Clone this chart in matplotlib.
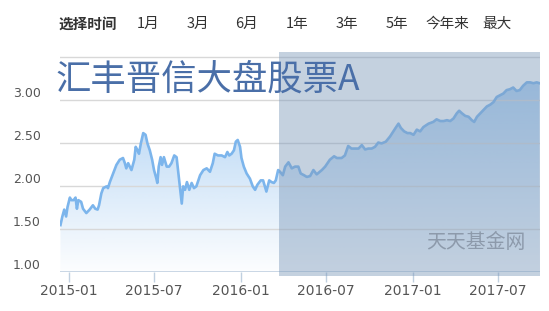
import matplotlib
matplotlib.use('Agg')
import matplotlib.pyplot as plt
import matplotlib.dates as mdates
import matplotlib.transforms as mtransforms
from matplotlib.patches import PathPatch
import numpy as np
from datetime import datetime

plt.rcParams['font.family'] = ['Noto Sans CJK SC', 'DejaVu Sans']

# fund NAV
dates = [
    '2014-12-14', '2014-12-18', '2014-12-22', '2014-12-26', '2014-12-29', '2015-01-03',
    '2015-01-06', '2015-01-11', '2015-01-15', '2015-01-18', '2015-01-21', '2015-01-27',
    '2015-01-31', '2015-02-07', '2015-02-14', '2015-02-21', '2015-02-26', '2015-03-03',
    '2015-03-06', '2015-03-11', '2015-03-15', '2015-03-22', '2015-03-25', '2015-03-29',
    '2015-04-05', '2015-04-12', '2015-04-19', '2015-04-26', '2015-04-30', '2015-05-03',
    '2015-05-07', '2015-05-14', '2015-05-20', '2015-05-23', '2015-05-27', '2015-05-30',
    '2015-06-03', '2015-06-08', '2015-06-13', '2015-06-17', '2015-06-22', '2015-06-27',
    '2015-07-01', '2015-07-06', '2015-07-08', '2015-07-11', '2015-07-15', '2015-07-18',
    '2015-07-22', '2015-07-28', '2015-08-02', '2015-08-07', '2015-08-13', '2015-08-18',
    '2015-08-21', '2015-08-25', '2015-08-29', '2015-09-01', '2015-09-05', '2015-09-09',
    '2015-09-14', '2015-09-19', '2015-09-24', '2015-09-29', '2015-10-07', '2015-10-14',
    '2015-10-21', '2015-10-28', '2015-11-03', '2015-11-07', '2015-11-14', '2015-11-22',
    '2015-11-29', '2015-12-04', '2015-12-08', '2015-12-13', '2015-12-18', '2015-12-22',
    '2015-12-26', '2015-12-31', '2016-01-03', '2016-01-08', '2016-01-14', '2016-01-21',
    '2016-01-27', '2016-02-01', '2016-02-06', '2016-02-13', '2016-02-18', '2016-02-25',
    '2016-03-02', '2016-03-07', '2016-03-12', '2016-03-16', '2016-03-21', '2016-03-25',
    '2016-03-31', '2016-04-05', '2016-04-12', '2016-04-19', '2016-04-26', '2016-05-03',
    '2016-05-08', '2016-05-15', '2016-05-21', '2016-05-28', '2016-06-04', '2016-06-11',
    '2016-06-22', '2016-06-29', '2016-07-09', '2016-07-18', '2016-07-24', '2016-08-03',
    '2016-08-10', '2016-08-17', '2016-08-24', '2016-08-31', '2016-09-08', '2016-09-15',
    '2016-09-22', '2016-09-29', '2016-10-06', '2016-10-13', '2016-10-20', '2016-10-27',
    '2016-11-05', '2016-11-14', '2016-11-21', '2016-11-27', '2016-12-02', '2016-12-07',
    '2016-12-14', '2016-12-21', '2016-12-27', '2017-01-03', '2017-01-10', '2017-01-17',
    '2017-01-24', '2017-02-04', '2017-02-14', '2017-02-21', '2017-03-01', '2017-03-08',
    '2017-03-15', '2017-03-22', '2017-03-29', '2017-04-05', '2017-04-10', '2017-04-16',
    '2017-04-23', '2017-04-30', '2017-05-07', '2017-05-12', '2017-05-18', '2017-05-25',
    '2017-06-01', '2017-06-08', '2017-06-15', '2017-06-22', '2017-06-29', '2017-07-06',
    '2017-07-13', '2017-07-20', '2017-07-27', '2017-08-03', '2017-08-10', '2017-08-17',
    '2017-08-24', '2017-09-01', '2017-09-08', '2017-09-15', '2017-09-22', '2017-09-28',
]
navs = [
    1.54, 1.64, 1.72, 1.64, 1.75, 1.86,
    1.83, 1.83, 1.86, 1.73, 1.83, 1.81,
    1.73, 1.68, 1.72, 1.77, 1.73, 1.72,
    1.77, 1.91, 1.97, 1.99, 1.97, 2.04,
    2.14, 2.24, 2.30, 2.32, 2.26, 2.20,
    2.26, 2.18, 2.30, 2.45, 2.41, 2.37,
    2.49, 2.61, 2.59, 2.49, 2.41, 2.30,
    2.18, 2.08, 2.03, 2.22, 2.33, 2.24,
    2.33, 2.22, 2.22, 2.26, 2.35, 2.33,
    2.18, 1.99, 1.79, 1.99, 1.95, 2.04,
    1.95, 2.03, 1.97, 1.99, 2.12, 2.18,
    2.20, 2.16, 2.26, 2.37, 2.35, 2.35,
    2.33, 2.39, 2.35, 2.37, 2.41, 2.51,
    2.53, 2.45, 2.32, 2.22, 2.14, 2.08,
    1.99, 1.95, 2.01, 2.06, 2.06, 1.93,
    2.06, 2.04, 2.03, 2.06, 2.18, 2.16,
    2.12, 2.22, 2.27, 2.20, 2.22, 2.22,
    2.14, 2.12, 2.10, 2.11, 2.18, 2.13,
    2.18, 2.22, 2.30, 2.34, 2.32, 2.32,
    2.35, 2.46, 2.43, 2.43, 2.43, 2.47,
    2.42, 2.43, 2.43, 2.45, 2.50, 2.49,
    2.51, 2.57, 2.63, 2.68, 2.72, 2.67,
    2.63, 2.61, 2.61, 2.59, 2.65, 2.63,
    2.68, 2.72, 2.74, 2.77, 2.75, 2.75,
    2.76, 2.75, 2.78, 2.84, 2.87, 2.84,
    2.81, 2.80, 2.76, 2.74, 2.80, 2.84,
    2.88, 2.92, 2.94, 2.97, 3.03, 3.05,
    3.07, 3.11, 3.12, 3.14, 3.10, 3.11,
    3.16, 3.20, 3.20, 3.19, 3.20, 3.19,
]

tick_dates = ['2015-01-01', '2015-07-01', '2016-01-01', '2016-07-01', '2017-01-01', '2017-07-01']
tick_labels = ['2015-01', '2015-07', '2016-01', '2016-07', '2017-01', '2017-07']
y_ticks = [1.0, 1.5, 2.0, 2.5, 3.0]
grid_levels = [1.5, 2.0, 2.5, 3.0, 3.5]

menu_labels = ['1月', '3月', '6月', '1年', '3年', '5年', '今年来', '最大']
menu_x = [148, 198, 247, 297, 347, 397, 447, 497]

title = '汇丰晋信大盘股票A'
selected_from = '2016-03-22'


def to_num(d):
    return mdates.date2num(datetime.strptime(d, '%Y-%m-%d'))


x = np.array([to_num(d) for d in dates])
y = np.array(navs)

fig = plt.figure(figsize=(5.49, 3.11), dpi=100)
ax = fig.add_axes([60 / 549, 1 - 271.5 / 311, 480 / 549, (271.5 - 54) / 311])

x_left = to_num('2014-12-13')
x_right = to_num('2017-09-29')
y_top = 3.53

# gradient area under the line
poly = ax.fill_between(x, y, 1.0, color='none', lw=0)
path = poly.get_paths()[0]
clip = PathPatch(path, transform=ax.transData, facecolor='none', edgecolor='none')
ax.add_patch(clip)
n = 256
grad = np.zeros((n, 1, 4))
grad[:, 0, 0] = 124 / 255
grad[:, 0, 1] = 181 / 255
grad[:, 0, 2] = 236 / 255
grad[:, 0, 3] = np.linspace(0.02, 0.7, n)
im = ax.imshow(grad, extent=[x_left, x_right, 1.0, y_top], aspect='auto',
               origin='lower', zorder=1)
im.set_clip_path(clip)

for g in grid_levels:
    ax.axhline(g, color='#d8d8d8', lw=1, zorder=2)
ax.axhline(1.0, color='#c0d0e0', lw=1.2, zorder=2)

ax.plot(x, y, color='#7cb5ec', lw=1.9, zorder=3, solid_joinstyle='round')

# selected range shade
ax.axvspan(to_num(selected_from), x_right, ymin=-0.021, ymax=1.01, color='#7c99ba',
           alpha=0.45, lw=0, zorder=4, clip_on=False)

ax.set_xlim(x_left, x_right)
ax.set_ylim(1.0, y_top)
for s in ax.spines.values():
    s.set_visible(False)

ax.set_yticks(y_ticks)
ax.set_yticklabels(['%.2f' % v for v in y_ticks], family='DejaVu Sans')
ax.tick_params(axis='y', length=0, pad=14, labelsize=9, labelcolor='#555555')
off = mtransforms.ScaledTranslation(0, 0.075, fig.dpi_scale_trans)
for lab in ax.get_yticklabels():
    lab.set_transform(lab.get_transform() + off)

ax.set_xticks([to_num(d) for d in tick_dates])
ax.set_xticklabels(tick_labels, family='DejaVu Sans')
ax.tick_params(axis='x', length=7, width=1, color='#c0d0e0', pad=2,
               labelsize=10, labelcolor='#555555')

# title and watermark
fig.text(55 / 549, 1 - 80 / 311, title, fontsize=25.5, color='#4a6fa8',
         ha='left', va='center', zorder=5)
fig.text(476 / 549, 1 - 242 / 311, '天天基金网', fontsize=14.3, color='#8d9aab',
         ha='center', va='center', zorder=5)

# period selector
fig.text(88 / 549, 1 - 24 / 311, '选择时间', fontsize=10.5, fontweight='bold',
         color='#333333', ha='center', va='center')
for lx, lab in zip(menu_x, menu_labels):
    fig.text(lx / 549, 1 - 24 / 311, lab, fontsize=10.5, color='#333333',
             ha='center', va='center')

fig.savefig('out.png', dpi=100)
